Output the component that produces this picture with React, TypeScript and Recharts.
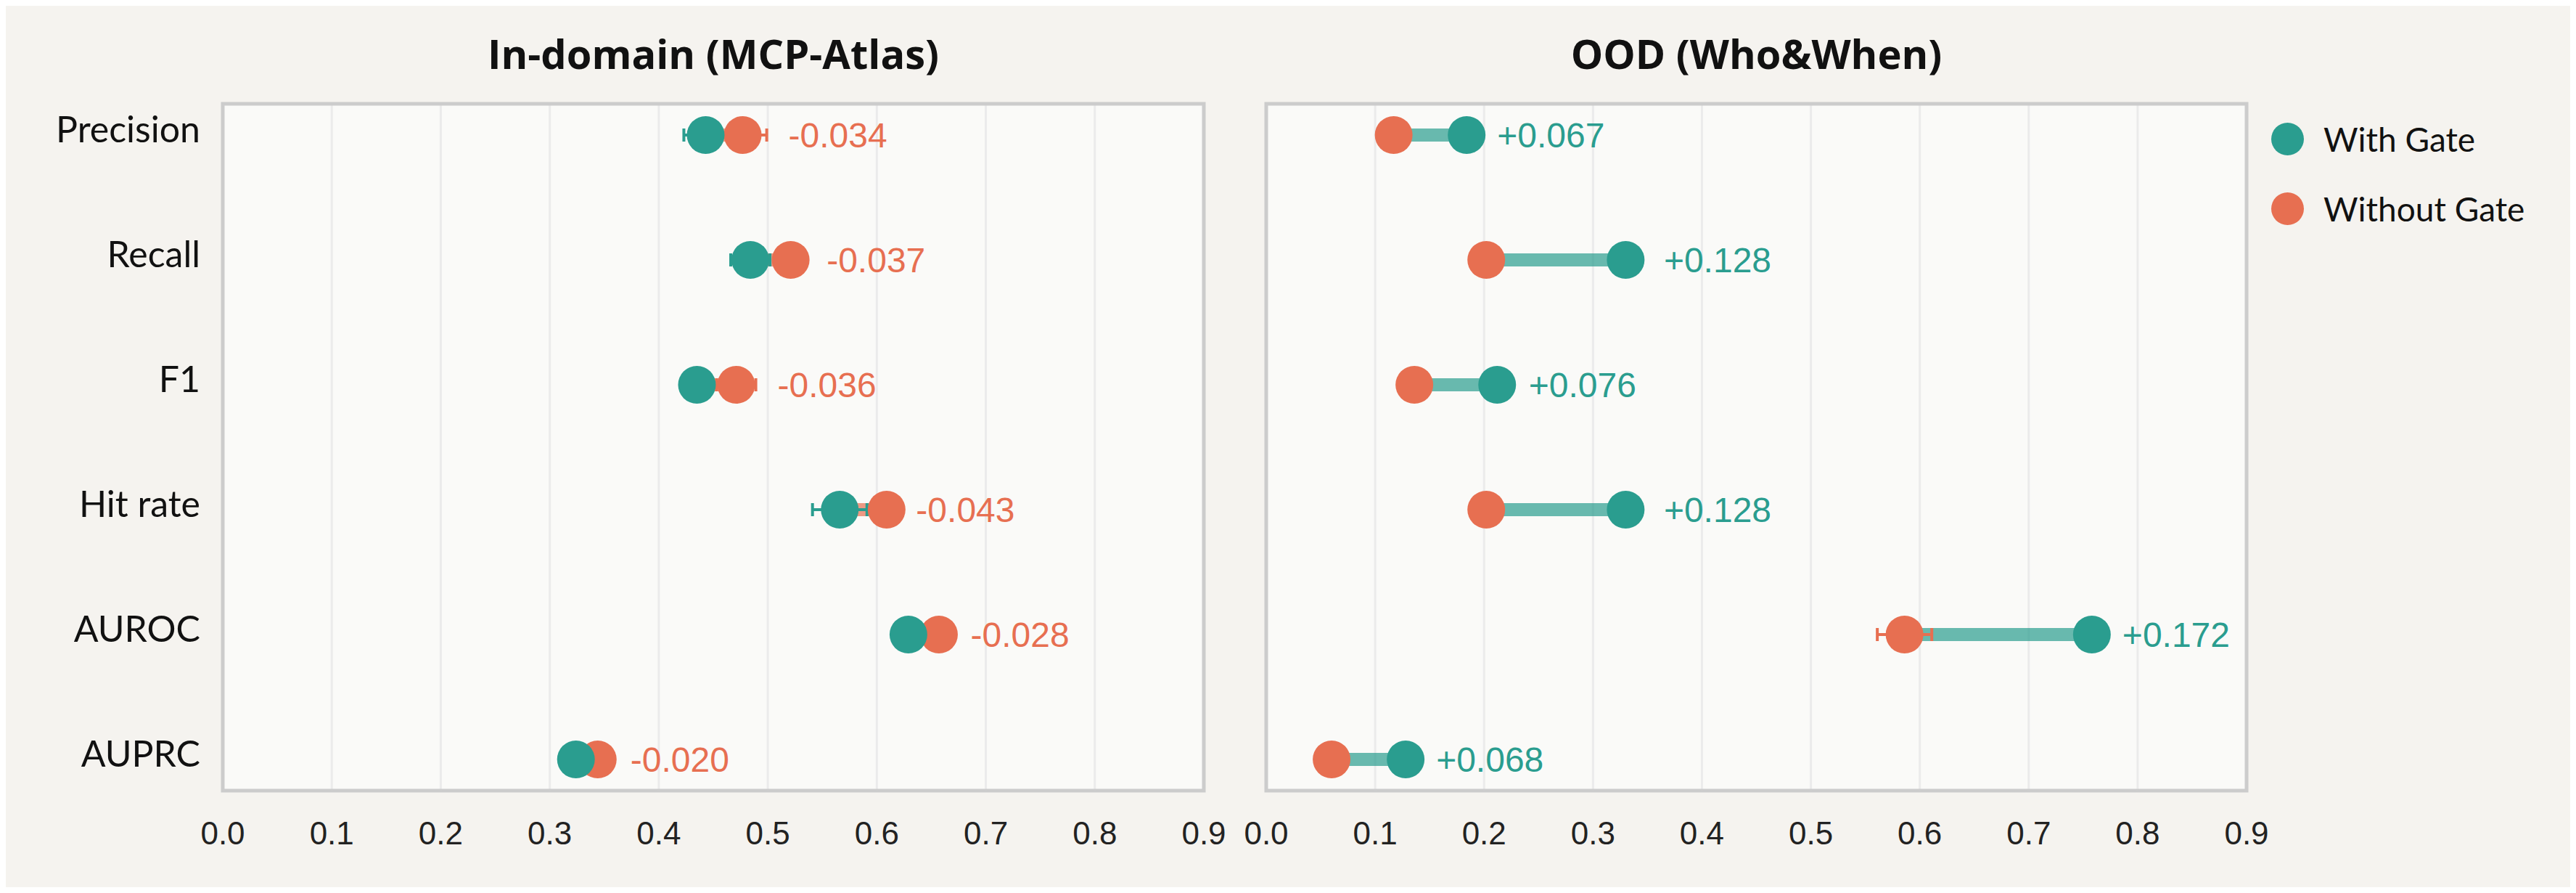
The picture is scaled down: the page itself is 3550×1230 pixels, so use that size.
import React from "react"
import {
  ScatterChart, Scatter, XAxis, YAxis, CartesianGrid, ErrorBar, ReferenceLine, ReferenceArea,
} from "recharts"

const metrics = ["Precision", "Recall", "F1", "Hit rate", "AUROC", "AUPRC"]
const xTicks = [0, 0.1, 0.2, 0.3, 0.4, 0.5, 0.6, 0.7, 0.8, 0.9]

const inWith = [0.443, 0.484, 0.435, 0.566, 0.629, 0.324]
const inWithErr = [0.02, 0.018, 0.01, 0.025, 0.01, 0.008]
const inWithout = [0.477, 0.521, 0.471, 0.609, 0.657, 0.344]
const inWithoutErr = [0.022, 0.013, 0.018, 0.007, 0.009, 0.01]

const oodWith = [0.184, 0.33, 0.212, 0.33, 0.758, 0.128]
const oodWithErr = [0.008, 0.015, 0.009, 0.015, 0.008, 0.008]
const oodWithout = [0.117, 0.202, 0.136, 0.202, 0.586, 0.06]
const oodWithoutErr = [0.006, 0.008, 0.008, 0.008, 0.025, 0.008]

const TEAL = "#2a9d8f"
const ORANGE = "#e76f51"
const SANS = "'Liberation Sans', Arial, sans-serif"
const LABEL_FONT = "Lato, 'Open Sans', sans-serif"

const Dot = (color: string) => (p: any) => <circle cx={p.cx} cy={p.cy} r={26} fill={color} />

const DeltaText = (p: any) => (
  <text x={p.cx + 30} y={p.cy} dominantBaseline="central" fill={p.payload.color}
    fontSize={48} fontFamily={SANS}>
    {p.payload.text}
  </text>
)

const MetricTick = ({ x, y, payload }: any) => (
  <text x={x} y={y} dy={-9} textAnchor="end" dominantBaseline="central"
    fontSize={50} fontFamily={LABEL_FONT} fill="#111">
    {metrics[payload.value]}
  </text>
)

const ValueTick = ({ x, y, payload }: any) => (
  <text x={x} y={y} textAnchor="middle" dominantBaseline="central"
    fontSize={44} fontFamily={SANS} fill="#222">
    {payload.value.toFixed(1)}
  </text>
)

interface PanelProps {
  title: string
  withV: number[]
  withErr: number[]
  withoutV: number[]
  withoutErr: number[]
  showY: boolean
  width: number
  margin: { top: number; right: number; bottom: number; left: number }
}

function Panel({ title, withV, withErr, withoutV, withoutErr, showY, width, margin }: PanelProps) {
  const withPts = metrics.map((_, i) => ({ x: withV[i], y: i, err: withErr[i] }))
  const withoutPts = metrics.map((_, i) => ({ x: withoutV[i], y: i, err: withoutErr[i] }))
  const labels = metrics.map((_, i) => {
    const d = withV[i] - withoutV[i]
    return {
      x: Math.max(withV[i] + withErr[i], withoutV[i] + withoutErr[i]),
      y: i,
      text: (d > 0 ? "+" : "") + d.toFixed(3),
      color: d > 0 ? TEAL : ORANGE,
    }
  })

  return (
    <ScatterChart width={width} height={1230} margin={margin}>
      <CartesianGrid horizontal={false} stroke="#ebebeb" strokeWidth={3} fill="#fafaf8" />
      <XAxis type="number" dataKey="x" domain={[0, 0.9]} ticks={xTicks} interval={0}
        axisLine={false} tickLine={false} tickSize={0} tickMargin={58} height={100}
        tick={<ValueTick />} />
      <YAxis type="number" dataKey="y" domain={[-0.25, 5.25]} reversed ticks={[0, 1, 2, 3, 4, 5]}
        interval={0} axisLine={false} tickLine={false} tickSize={0} tickMargin={31}
        width={307} hide={!showY} tick={<MetricTick />} />
      <ReferenceArea x1={0} x2={0.9} y1={-0.25} y2={5.25} fill="none" stroke="#cccccc"
        strokeWidth={5}
        label={{ value: title, position: "top", offset: 48, fontSize: 56, fontWeight: 700,
          fill: "#111", fontFamily: "'Open Sans', sans-serif" }} />
      {metrics.map((m, i) => (
        <ReferenceLine key={m}
          segment={[{ x: withoutV[i], y: i }, { x: withV[i], y: i }]}
          stroke={withV[i] > withoutV[i] ? TEAL : ORANGE} strokeOpacity={0.7} strokeWidth={18} />
      ))}
      <Scatter name="Without Gate" data={withoutPts} shape={Dot(ORANGE)} isAnimationActive={false}>
        <ErrorBar dataKey="err" direction="x" stroke={ORANGE} strokeWidth={4} width={9} />
      </Scatter>
      <Scatter name="With Gate" data={withPts} shape={Dot(TEAL)} isAnimationActive={false}>
        <ErrorBar dataKey="err" direction="x" stroke={TEAL} strokeWidth={4} width={9} />
      </Scatter>
      <Scatter data={labels} shape={DeltaText} isAnimationActive={false} />
    </ScatterChart>
  )
}

const legendItems = [
  { name: "With Gate", color: TEAL },
  { name: "Without Gate", color: ORANGE },
]

export default function App() {
  return (
    <div style={{ margin: -8, width: 3550, height: 1230, background: "#f5f3ef", position: "relative" }}>
      <div style={{ position: "absolute", left: 0, top: 0 }}>
        <Panel title="In-domain (MCP-Atlas)" withV={inWith} withErr={inWithErr}
          withoutV={inWithout} withoutErr={inWithoutErr} showY width={1700}
          margin={{ top: 143, right: 41, bottom: 41, left: 0 }} />
      </div>
      <div style={{ position: "absolute", left: 1700, top: 0 }}>
        <Panel title="OOD (Who&When)" withV={oodWith} withErr={oodWithErr}
          withoutV={oodWithout} withoutErr={oodWithoutErr} showY={false} width={1850}
          margin={{ top: 143, right: 454, bottom: 41, left: 45 }} />
      </div>
      <div style={{ position: "absolute", left: 3130, top: 169 }}>
        {legendItems.map((it) => (
          <div key={it.name} style={{ display: "flex", alignItems: "center", height: 45, marginBottom: 51 }}>
            <span style={{ width: 45, height: 45, borderRadius: "50%", background: it.color, display: "inline-block" }} />
            <span style={{ marginLeft: 27, fontSize: 46, fontFamily: LABEL_FONT, color: "#111", lineHeight: "45px" }}>
              {it.name}
            </span>
          </div>
        ))}
      </div>
    </div>
  )
}
